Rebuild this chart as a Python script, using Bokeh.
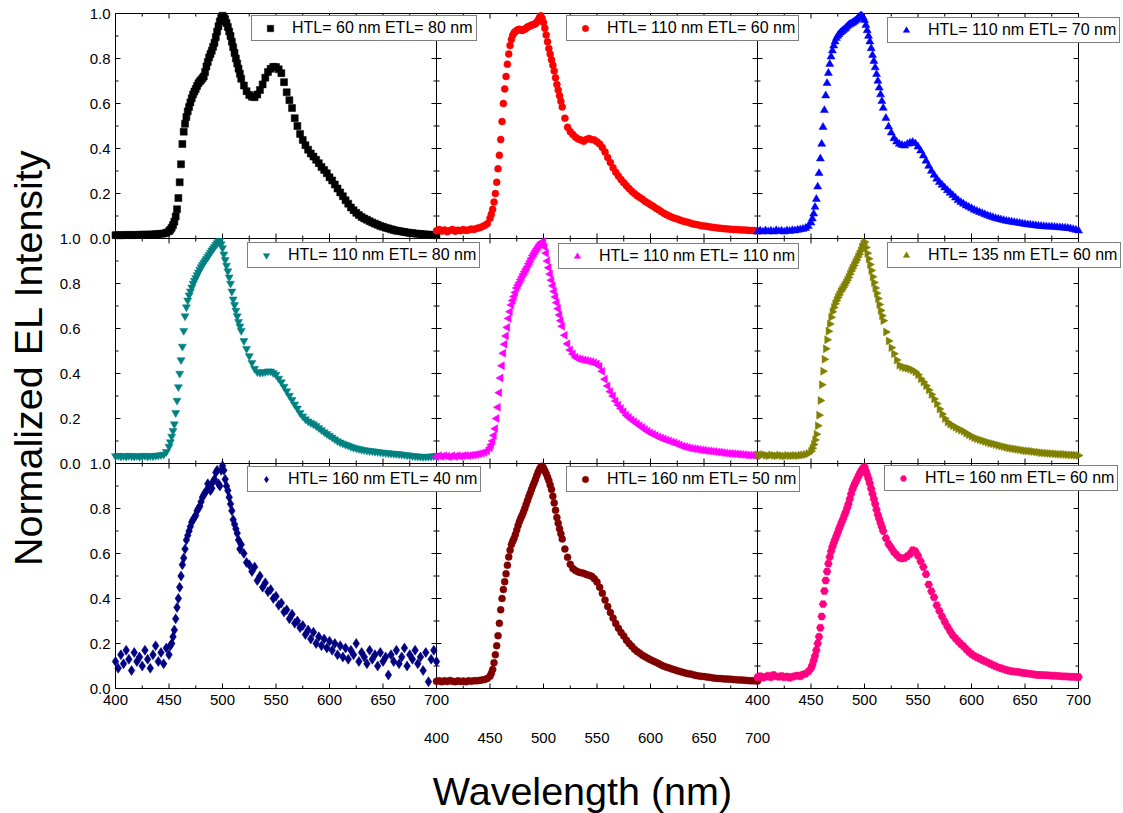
import math
from bokeh.plotting import figure
from bokeh.models import Range1d, LinearAxis, FixedTicker, Legend, LegendItem, Label
from bokeh.embed import file_html
from bokeh.resources import INLINE

# ---------------- data ----------------
WAVELENGTH = [400 + 2.5 * i for i in range(121)]        # nm, 400 ... 700
WAVELENGTH_FINE = [451.25 + 2.5 * i for i in range(27)]  # extra readings on the steep part

X_TICKS = [400, 450, 500, 550, 600, 650, 700]
X_MINOR = [425, 475, 525, 575, 625, 675]
Y_TICKS = [0.0, 0.2, 0.4, 0.6, 0.8, 1.0]
Y_MINOR = [0.1, 0.3, 0.5, 0.7, 0.9]

LABELS = [
    "HTL= 60 nm ETL= 80 nm", "HTL= 110 nm ETL= 60 nm", "HTL= 110 nm ETL= 70 nm",
    "HTL= 110 nm ETL= 80 nm", "HTL= 110 nm ETL= 110 nm", "HTL= 135 nm ETL= 60 nm",
    "HTL= 160 nm ETL= 40 nm", "HTL= 160 nm ETL= 50 nm", "HTL= 160 nm ETL= 60 nm",
]

HTL60_ETL80 = [
    0.015, 0.015, 0.015, 0.015, 0.016, 0.016, 0.015, 0.016, 0.016, 0.016,
    0.017, 0.017, 0.017, 0.018, 0.018, 0.019, 0.020, 0.021, 0.022, 0.026,
    0.032, 0.048, 0.075, 0.130, 0.250, 0.420, 0.510, 0.565, 0.605, 0.640,
    0.665, 0.690, 0.705, 0.720, 0.765, 0.805, 0.835, 0.870, 0.920, 0.965,
    0.990, 0.975, 0.940, 0.900, 0.850, 0.800, 0.755, 0.710, 0.680, 0.655,
    0.638, 0.630, 0.628, 0.640, 0.660, 0.685, 0.715, 0.740, 0.754, 0.763,
    0.762, 0.752, 0.735, 0.695, 0.650, 0.615, 0.580, 0.535, 0.500, 0.465,
    0.438, 0.415, 0.395, 0.378, 0.364, 0.350, 0.335, 0.318, 0.305, 0.290,
    0.272, 0.258, 0.240, 0.222, 0.205, 0.188, 0.170, 0.155, 0.138, 0.126,
    0.114, 0.104, 0.096, 0.089, 0.083, 0.077, 0.071, 0.066, 0.061, 0.056,
    0.052, 0.048, 0.045, 0.041, 0.038, 0.035, 0.033, 0.031, 0.029, 0.027,
    0.025, 0.024, 0.022, 0.021, 0.020, 0.019, 0.018, 0.017, 0.016, 0.015,
    0.015,
]
HTL60_ETL80_FINE = [
    0.039, 0.060, 0.098, 0.180, 0.330, 0.475, 0.540, 0.585, 0.623, 0.653,
    0.678, 0.698, 0.712, 0.740, 0.785, 0.820, 0.852, 0.895, 0.943, 0.980,
    0.985, 0.958, 0.920, 0.875, 0.825, 0.778, 0.732,
]
HTL110_ETL60 = [
    0.035, 0.040, 0.033, 0.038, 0.030, 0.036, 0.040, 0.032, 0.037, 0.035,
    0.040, 0.036, 0.038, 0.042, 0.040, 0.045, 0.048, 0.052, 0.058, 0.066,
    0.090, 0.130, 0.200, 0.310, 0.440, 0.600, 0.720, 0.820, 0.885, 0.915,
    0.925, 0.930, 0.925, 0.930, 0.940, 0.945, 0.950, 0.955, 0.970, 0.990,
    0.960, 0.905, 0.845, 0.795, 0.745, 0.685, 0.635, 0.585, 0.535, 0.495,
    0.475, 0.462, 0.450, 0.442, 0.438, 0.432, 0.440, 0.445, 0.440, 0.438,
    0.430, 0.420, 0.405, 0.385, 0.360, 0.338, 0.315, 0.295, 0.278, 0.262,
    0.248, 0.235, 0.222, 0.210, 0.200, 0.190, 0.182, 0.175, 0.165, 0.158,
    0.150, 0.143, 0.135, 0.128, 0.120, 0.112, 0.106, 0.100, 0.095, 0.090,
    0.087, 0.082, 0.078, 0.075, 0.072, 0.068, 0.065, 0.062, 0.060, 0.057,
    0.056, 0.054, 0.052, 0.050, 0.049, 0.047, 0.046, 0.044, 0.043, 0.042,
    0.041, 0.040, 0.040, 0.039, 0.038, 0.038, 0.037, 0.036, 0.036, 0.035,
    0.034,
]
HTL110_ETL60_FINE = [
    0.108, 0.162, 0.250, 0.370, 0.520, 0.665, 0.775, 0.858, 0.903, 0.920,
    0.928, 0.927, 0.928, 0.935, 0.942, 0.948, 0.952, 0.962, 0.982, 0.978,
    0.935, 0.875, 0.820, 0.770, 0.715, 0.660, 0.610,
]
HTL110_ETL70 = [
    0.030, 0.034, 0.030, 0.035, 0.031, 0.034, 0.030, 0.036, 0.032, 0.034,
    0.030, 0.035, 0.033, 0.036, 0.035, 0.038, 0.040, 0.042, 0.046, 0.055,
    0.070, 0.110, 0.175, 0.290, 0.420, 0.570, 0.690, 0.775, 0.835, 0.875,
    0.900, 0.915, 0.925, 0.935, 0.948, 0.955, 0.962, 0.972, 0.985, 0.990,
    0.970, 0.925, 0.875, 0.815, 0.760, 0.700, 0.640, 0.580, 0.535, 0.497,
    0.470, 0.445, 0.430, 0.420, 0.415, 0.412, 0.420, 0.425, 0.428, 0.422,
    0.408, 0.390, 0.368, 0.345, 0.322, 0.300, 0.282, 0.265, 0.250, 0.238,
    0.226, 0.214, 0.203, 0.192, 0.181, 0.170, 0.161, 0.154, 0.146, 0.140,
    0.134, 0.127, 0.122, 0.117, 0.112, 0.107, 0.102, 0.098, 0.094, 0.090,
    0.087, 0.084, 0.081, 0.078, 0.076, 0.074, 0.072, 0.070, 0.068, 0.066,
    0.064, 0.062, 0.061, 0.059, 0.058, 0.056, 0.055, 0.054, 0.053, 0.052,
    0.052, 0.051, 0.050, 0.049, 0.048, 0.047, 0.046, 0.044, 0.041, 0.038,
    0.035,
]
HTL110_ETL70_FINE = [
    0.088, 0.140, 0.230, 0.355, 0.495, 0.635, 0.735, 0.808, 0.857, 0.890,
    0.908, 0.920, 0.930, 0.942, 0.952, 0.958, 0.967, 0.978, 0.990, 0.982,
    0.948, 0.900, 0.845, 0.788, 0.730, 0.670, 0.610,
]
HTL110_ETL80 = [
    0.033, 0.035, 0.032, 0.034, 0.031, 0.035, 0.033, 0.032, 0.034, 0.031,
    0.033, 0.035, 0.032, 0.034, 0.033, 0.035, 0.036, 0.038, 0.040, 0.052,
    0.075, 0.120, 0.175, 0.280, 0.400, 0.520, 0.655, 0.725, 0.765, 0.800,
    0.825, 0.850, 0.873, 0.893, 0.910, 0.928, 0.947, 0.963, 0.980, 0.990,
    0.958, 0.905, 0.855, 0.800, 0.730, 0.680, 0.630, 0.590, 0.545, 0.510,
    0.478, 0.448, 0.422, 0.407, 0.404, 0.405, 0.407, 0.410, 0.410, 0.403,
    0.395, 0.378, 0.362, 0.342, 0.322, 0.302, 0.283, 0.263, 0.245, 0.225,
    0.210, 0.197, 0.188, 0.181, 0.175, 0.167, 0.158, 0.149, 0.140, 0.132,
    0.124, 0.116, 0.108, 0.100, 0.094, 0.089, 0.084, 0.080, 0.075, 0.071,
    0.068, 0.065, 0.062, 0.060, 0.058, 0.056, 0.055, 0.053, 0.052, 0.050,
    0.049, 0.047, 0.046, 0.045, 0.044, 0.043, 0.042, 0.040, 0.039, 0.037,
    0.036, 0.034, 0.033, 0.032, 0.031, 0.030, 0.030, 0.031, 0.032, 0.033,
    0.034,
]
HTL110_ETL80_FINE = [
    0.095, 0.145, 0.225, 0.340, 0.460, 0.590, 0.695, 0.748, 0.783, 0.813,
    0.838, 0.862, 0.883, 0.902, 0.919, 0.938, 0.955, 0.972, 0.986, 0.975,
    0.930, 0.880, 0.828, 0.765, 0.705, 0.655, 0.610,
]
HTL110_ETL110 = [
    0.030, 0.034, 0.031, 0.035, 0.032, 0.030, 0.034, 0.031, 0.035, 0.032,
    0.034, 0.036, 0.035, 0.037, 0.038, 0.040, 0.043, 0.046, 0.050, 0.056,
    0.070, 0.100, 0.155, 0.250, 0.380, 0.490, 0.567, 0.645, 0.705, 0.742,
    0.780, 0.805, 0.830, 0.853, 0.875, 0.900, 0.925, 0.945, 0.963, 0.980,
    0.985, 0.935, 0.870, 0.815, 0.765, 0.715, 0.660, 0.610, 0.570, 0.532,
    0.505, 0.487, 0.472, 0.466, 0.463, 0.460, 0.458, 0.455, 0.452, 0.448,
    0.442, 0.432, 0.410, 0.375, 0.345, 0.320, 0.300, 0.278, 0.260, 0.244,
    0.230, 0.215, 0.204, 0.194, 0.186, 0.177, 0.168, 0.160, 0.151, 0.143,
    0.136, 0.130, 0.124, 0.118, 0.113, 0.109, 0.104, 0.100, 0.096, 0.092,
    0.087, 0.082, 0.077, 0.074, 0.071, 0.068, 0.066, 0.064, 0.062, 0.060,
    0.059, 0.057, 0.056, 0.054, 0.053, 0.051, 0.050, 0.048, 0.047, 0.045,
    0.044, 0.043, 0.042, 0.041, 0.040, 0.039, 0.038, 0.037, 0.037, 0.036,
    0.036,
]
HTL110_ETL110_FINE = [
    0.083, 0.125, 0.200, 0.315, 0.435, 0.530, 0.605, 0.675, 0.725, 0.760,
    0.793, 0.818, 0.842, 0.864, 0.888, 0.912, 0.935, 0.954, 0.972, 0.985,
    0.962, 0.900, 0.842, 0.790, 0.740, 0.688, 0.635,
]
HTL135_ETL60 = [
    0.038, 0.036, 0.040, 0.037, 0.035, 0.038, 0.036, 0.034, 0.037, 0.035,
    0.033, 0.036, 0.034, 0.035, 0.036, 0.035, 0.037, 0.038, 0.040, 0.044,
    0.055, 0.085, 0.130, 0.215, 0.350, 0.463, 0.550, 0.620, 0.675, 0.710,
    0.738, 0.763, 0.782, 0.803, 0.827, 0.856, 0.880, 0.905, 0.930, 0.962,
    0.985, 0.935, 0.885, 0.830, 0.780, 0.733, 0.680, 0.635, 0.585, 0.545,
    0.515, 0.488, 0.460, 0.437, 0.430, 0.426, 0.423, 0.420, 0.415, 0.407,
    0.395, 0.377, 0.362, 0.346, 0.327, 0.307, 0.287, 0.266, 0.242, 0.220,
    0.200, 0.184, 0.175, 0.168, 0.161, 0.154, 0.149, 0.143, 0.135, 0.128,
    0.121, 0.115, 0.110, 0.106, 0.102, 0.098, 0.094, 0.090, 0.088, 0.084,
    0.081, 0.078, 0.075, 0.072, 0.069, 0.067, 0.065, 0.063, 0.061, 0.059,
    0.057, 0.056, 0.055, 0.053, 0.051, 0.050, 0.048, 0.047, 0.046, 0.045,
    0.044, 0.043, 0.042, 0.041, 0.041, 0.040, 0.039, 0.038, 0.038, 0.037,
    0.036,
]
HTL135_ETL60_FINE = [
    0.068, 0.105, 0.168, 0.280, 0.410, 0.510, 0.588, 0.650, 0.693, 0.725,
    0.750, 0.772, 0.792, 0.815, 0.842, 0.868, 0.893, 0.918, 0.945, 0.975,
    0.960, 0.910, 0.858, 0.805, 0.757, 0.707, 0.657,
]
HTL160_ETL40 = [
    0.12, 0.09, 0.15, 0.11, 0.17, 0.13, 0.08, 0.16, 0.12, 0.14,
    0.10, 0.17, 0.13, 0.09, 0.15, 0.19, 0.12, 0.16, 0.11, 0.18,
    0.15, 0.20, 0.26, 0.36, 0.45, 0.55, 0.62, 0.68, 0.72, 0.75,
    0.77, 0.80, 0.83, 0.86, 0.88, 0.90, 0.89, 0.93, 0.97, 0.90,
    0.99, 0.93, 0.88, 0.82, 0.75, 0.71, 0.66, 0.64, 0.60, 0.56,
    0.55, 0.52, 0.54, 0.48, 0.50, 0.45, 0.47, 0.43, 0.44, 0.40,
    0.41, 0.37, 0.38, 0.34, 0.35, 0.31, 0.33, 0.29, 0.30, 0.27,
    0.28, 0.24, 0.26, 0.22, 0.25, 0.20, 0.23, 0.19, 0.22, 0.18,
    0.21, 0.17, 0.20, 0.15, 0.19, 0.14, 0.18, 0.13, 0.17, 0.15,
    0.20, 0.12, 0.16, 0.14, 0.11, 0.17, 0.13, 0.15, 0.10, 0.16,
    0.12, 0.14, 0.06, 0.15, 0.12, 0.17, 0.11, 0.14, 0.18, 0.10,
    0.15, 0.13, 0.17, 0.11, 0.14, 0.08, 0.16, 0.03, 0.13, 0.17,
    0.12,
]
HTL160_ETL40_FINE = [
    0.19, 0.23, 0.31, 0.40, 0.50, 0.58, 0.66, 0.70, 0.74, 0.76,
    0.79, 0.81, 0.85, 0.87, 0.91, 0.88, 0.92, 0.96, 0.91, 0.97,
    0.97, 0.90, 0.85, 0.79, 0.73, 0.69, 0.62,
]
HTL160_ETL50 = [
    0.032, 0.035, 0.030, 0.034, 0.031, 0.036, 0.032, 0.030, 0.034, 0.031,
    0.033, 0.030, 0.034, 0.032, 0.035, 0.034, 0.036, 0.038, 0.040, 0.045,
    0.055, 0.085, 0.150, 0.235, 0.350, 0.440, 0.510, 0.585, 0.640, 0.668,
    0.705, 0.742, 0.770, 0.800, 0.835, 0.868, 0.900, 0.930, 0.962, 0.985,
    0.980, 0.955, 0.925, 0.885, 0.825, 0.760, 0.710, 0.665, 0.620, 0.583,
    0.552, 0.533, 0.524, 0.518, 0.515, 0.512, 0.507, 0.503, 0.499, 0.488,
    0.473, 0.450, 0.423, 0.393, 0.365, 0.338, 0.313, 0.289, 0.268, 0.249,
    0.233, 0.215, 0.200, 0.188, 0.175, 0.165, 0.157, 0.148, 0.141, 0.134,
    0.128, 0.122, 0.117, 0.111, 0.104, 0.099, 0.095, 0.091, 0.087, 0.083,
    0.079, 0.076, 0.072, 0.069, 0.066, 0.064, 0.061, 0.058, 0.056, 0.054,
    0.053, 0.051, 0.050, 0.048, 0.046, 0.045, 0.044, 0.043, 0.042, 0.042,
    0.041, 0.040, 0.039, 0.038, 0.038, 0.037, 0.036, 0.035, 0.034, 0.034,
    0.033,
]
HTL160_ETL50_FINE = [
    0.068, 0.115, 0.190, 0.290, 0.400, 0.475, 0.548, 0.615, 0.655, 0.685,
    0.725, 0.757, 0.785, 0.818, 0.852, 0.885, 0.915, 0.947, 0.975, 0.988,
    0.968, 0.940, 0.905, 0.855, 0.792, 0.735, 0.688,
]
HTL160_ETL60 = [
    0.050, 0.055, 0.048, 0.052, 0.057, 0.050, 0.060, 0.054, 0.052, 0.056,
    0.050, 0.053, 0.048, 0.052, 0.055, 0.058, 0.054, 0.062, 0.066, 0.075,
    0.090, 0.125, 0.170, 0.230, 0.320, 0.433, 0.520, 0.585, 0.630, 0.662,
    0.693, 0.725, 0.753, 0.785, 0.820, 0.865, 0.900, 0.925, 0.950, 0.972,
    0.985, 0.950, 0.912, 0.865, 0.820, 0.772, 0.735, 0.700, 0.668, 0.642,
    0.625, 0.607, 0.594, 0.582, 0.578, 0.580, 0.588, 0.598, 0.615, 0.610,
    0.590, 0.565, 0.540, 0.508, 0.462, 0.432, 0.405, 0.370, 0.345, 0.320,
    0.297, 0.275, 0.255, 0.237, 0.223, 0.210, 0.198, 0.188, 0.175, 0.163,
    0.153, 0.145, 0.139, 0.133, 0.127, 0.121, 0.116, 0.110, 0.104, 0.099,
    0.094, 0.090, 0.086, 0.082, 0.079, 0.077, 0.075, 0.074, 0.072, 0.070,
    0.068, 0.067, 0.065, 0.063, 0.061, 0.060, 0.060, 0.059, 0.059, 0.058,
    0.057, 0.057, 0.056, 0.055, 0.054, 0.054, 0.053, 0.052, 0.052, 0.051,
    0.051,
]
HTL160_ETL60_FINE = [
    0.105, 0.145, 0.200, 0.270, 0.375, 0.480, 0.555, 0.610, 0.647, 0.678,
    0.710, 0.740, 0.770, 0.802, 0.842, 0.885, 0.913, 0.938, 0.962, 0.980,
    0.968, 0.932, 0.888, 0.842, 0.795, 0.753, 0.718,
]

SERIES = [HTL60_ETL80, HTL110_ETL60, HTL110_ETL70,
          HTL110_ETL80, HTL110_ETL110, HTL135_ETL60,
          HTL160_ETL40, HTL160_ETL50, HTL160_ETL60]
SERIES_FINE = [HTL60_ETL80_FINE, HTL110_ETL60_FINE, HTL110_ETL70_FINE,
               HTL110_ETL80_FINE, HTL110_ETL110_FINE, HTL135_ETL60_FINE,
               HTL160_ETL40_FINE, HTL160_ETL50_FINE, HTL160_ETL60_FINE]
for s in SERIES:
    assert len(s) == len(WAVELENGTH), len(s)
for s in SERIES_FINE:
    assert len(s) == len(WAVELENGTH_FINE), len(s)

# ---------------- styles / layout ----------------
COLORS = ["#000000", "#FF0000", "#0000FF", "#008080", "#FF00FF",
          "#808000", "#000080", "#800000", "#FF0080"]
MARKERS = ["square", "circle", "triangle", "inverted_triangle", "triangle",
           "triangle", "diamond", "circle", "hex"]
ANGLES = [0, 0, 0, 0, math.pi / 2, -math.pi / 2, 0, 0, 0]
SIZES = [7, 7, 8, 8, 8, 8, 10, 7, 8]
# legend box top-left corners (canvas pixels)
LEG_POS = [(251, 17), (566, 17), (887, 19), (247, 244), (558, 245),
           (887, 244), (247, 468), (566, 468), (884, 467)]
LEG_H = 24

FONT = "Liberation Sans"
W, H = 1123, 813
PANEL_LEFT, PANEL_TOP = 115, 13     # top-left corner of the 3x3 block
PW, PH = 321, 225                   # one panel, pixels
NCOL = NROW = 3
XSPAN = X_TICKS[-1] - X_TICKS[0]
YSPAN = Y_TICKS[-1] - Y_TICKS[0]


def x_range(c):
    px = XSPAN / PW
    start = X_TICKS[0] - (PANEL_LEFT + c * PW) * px
    return Range1d(start, start + W * px)


def y_range(r):
    py = YSPAN / PH
    bottom_px = H - (PANEL_TOP + (r + 1) * PH)   # panel bottom, from canvas bottom
    start = Y_TICKS[0] - bottom_px * py
    return Range1d(start, start + H * py)


XN = ["default", "c1", "c2"]
YN = ["default", "r1", "r2"]

p = figure(width=W, height=H, x_range=x_range(0), y_range=y_range(0),
           x_axis_location=None, y_axis_location=None,
           output_backend="svg", toolbar_location=None, min_border=0)
p.extra_x_ranges = {"c1": x_range(1), "c2": x_range(2)}
p.extra_y_ranges = {"r1": y_range(1), "r2": y_range(2)}
p.xgrid.visible = False
p.ygrid.visible = False
p.outline_line_color = None
p.background_fill_color = "white"
p.border_fill_color = "white"


def tick_axis(ticks, labels, standoff, **kw):
    ax = LinearAxis(ticker=FixedTicker(ticks=ticks, minor_ticks=[]), **kw)
    ax.major_label_overrides = dict(zip(ticks, labels))
    ax.axis_line_color = None
    ax.major_tick_in = 0
    ax.major_tick_out = 0
    ax.minor_tick_in = 0
    ax.minor_tick_out = 0
    ax.major_tick_line_color = None
    ax.minor_tick_line_color = None
    ax.major_label_text_font = FONT
    ax.major_label_text_font_size = "15px"
    ax.major_label_text_color = "black"
    ax.major_label_standoff = standoff
    return ax


xlabels = [str(t) for t in X_TICKS]
ylabels = ["%.1f" % t for t in Y_TICKS]

# bottom tick labels: columns 0 and 2 on the first row, column 1 lower down
bx_ticks = list(X_TICKS) + [t + 2 * XSPAN for t in X_TICKS]
p.add_layout(tick_axis(bx_ticks, xlabels + xlabels, 6, x_range_name=XN[0],
                       y_range_name=YN[2], fixed_location=Y_TICKS[0]), "below")
p.add_layout(tick_axis(list(X_TICKS), xlabels, 44, x_range_name=XN[1],
                       y_range_name=YN[2], fixed_location=Y_TICKS[0]), "below")

# left tick labels: rows 0 and 2 close to the frame, row 1 further out
ly_ticks = list(Y_TICKS) + [round(t - 2 * YSPAN, 6) for t in Y_TICKS]
p.add_layout(tick_axis(ly_ticks, ylabels + ylabels, 5, x_range_name=XN[0],
                       y_range_name=YN[0], fixed_location=X_TICKS[0]), "left")
p.add_layout(tick_axis(list(Y_TICKS), ylabels, 35, x_range_name=XN[0],
                       y_range_name=YN[1], fixed_location=X_TICKS[0]), "left")

# panel frames and inward ticks on all four sides
ux = XSPAN / PW
uy = YSPAN / PH
for c in range(NCOL):
    for r in range(NROW):
        p.quad(left=[X_TICKS[0]], right=[X_TICKS[-1]], bottom=[Y_TICKS[0]], top=[Y_TICKS[-1]],
               x_range_name=XN[c], y_range_name=YN[r],
               fill_color=None, line_color="black", line_width=1)
        x0, y0, x1, y1 = [], [], [], []
        for t, L in [(t, 5) for t in X_TICKS] + [(t, 3) for t in X_MINOR]:
            x0 += [t, t]
            x1 += [t, t]
            y0 += [Y_TICKS[0], Y_TICKS[-1]]
            y1 += [Y_TICKS[0] + L * uy, Y_TICKS[-1] - L * uy]
        for v, L in [(v, 5) for v in Y_TICKS] + [(v, 3) for v in Y_MINOR]:
            y0 += [v, v]
            y1 += [v, v]
            x0 += [X_TICKS[0], X_TICKS[-1]]
            x1 += [X_TICKS[0] + L * ux, X_TICKS[-1] - L * ux]
        p.segment(x0=x0, y0=y0, x1=x1, y1=y1, x_range_name=XN[c], y_range_name=YN[r],
                  line_color="black", line_width=1)

# data + legends
for i, vals in enumerate(SERIES):
    c, r = i % NCOL, i // NCOL
    rend = p.scatter(x=WAVELENGTH + WAVELENGTH_FINE, y=vals + SERIES_FINE[i],
                     x_range_name=XN[c], y_range_name=YN[r],
                     marker=MARKERS[i], size=SIZES[i], angle=ANGLES[i],
                     fill_color=COLORS[i], line_color=COLORS[i], line_width=0.5)
    lx, ly = LEG_POS[i]
    leg = Legend(items=[LegendItem(label=LABELS[i], renderers=[rend])],
                 location=(lx, H - (ly + LEG_H)),
                 label_text_font=FONT, label_text_font_size="16px",
                 label_text_color="black",
                 border_line_color="black", border_line_width=1,
                 background_fill_color="white", background_fill_alpha=1.0,
                 padding=3, margin=0, spacing=0,
                 glyph_width=30, glyph_height=16, label_standoff=7, label_height=16)
    p.add_layout(leg)

# axis titles
p.add_layout(Label(x=582, y=H - 790, x_units="screen", y_units="screen",
                   text="Wavelength (nm)", text_font=FONT, text_font_size="39.5px",
                   text_align="center", text_baseline="middle", text_color="black"))
p.add_layout(Label(x=27, y=H - 357, x_units="screen", y_units="screen",
                   text="Normalized EL Intensity", text_font=FONT, text_font_size="39.5px",
                   angle=math.pi / 2, text_align="center", text_baseline="middle",
                   text_color="black"))

open("out.html", "w").write(file_html(p, INLINE))
